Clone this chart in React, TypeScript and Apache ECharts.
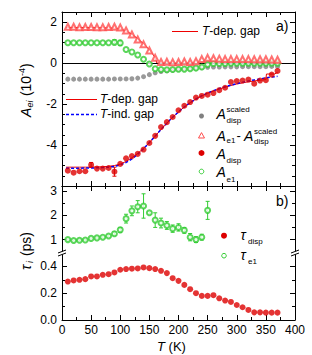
import React, { useEffect, useRef } from "react";
import * as echarts from "echarts";

const FONT = "'Liberation Sans', Arial, sans-serif";

// ---------- data ----------
const temps = [10, 20, 30, 40, 50, 60, 70, 80, 90, 100, 110, 120, 130, 140, 150, 160, 170, 180, 190, 200, 210, 220, 230, 240, 250, 260, 270, 280, 290, 300, 310, 320, 330, 340, 350, 360, 370];

const aDispScaled = [-0.78, -0.78, -0.78, -0.78, -0.78, -0.78, -0.78, -0.78, -0.77, -0.77, -0.77, -0.76, -0.73, -0.66, -0.56, -0.47, -0.41, -0.37, -0.34, -0.31, -0.29, -0.27, -0.25, -0.22, -0.2, -0.19, -0.19, -0.18, -0.18, -0.18, -0.17, -0.17, -0.17, -0.17, -0.17, -0.16, -0.16];
const aE1MinusScaled = [1.78, 1.78, 1.76, 1.77, 1.77, 1.76, 1.76, 1.77, 1.78, 1.74, 1.6, 1.4, 1.16, 0.92, 0.62, 0.26, 0.06, 0.07, 0.05, 0.06, 0.08, 0.06, 0.1, 0.2, 0.26, 0.24, 0.22, 0.2, 0.2, 0.2, 0.2, 0.2, 0.19, 0.19, 0.19, 0.18, 0.17];
const aDisp = [-5.25, -5.35, -5.28, -5.28, -4.97, -5.15, -5.15, -5.12, -5.3, -4.92, -4.65, -4.54, -4.43, -4.22, -3.9, -3.55, -3.12, -2.88, -2.63, -2.3, -2.08, -1.9, -1.68, -1.6, -1.54, -1.46, -1.32, -1.2, -0.92, -0.87, -0.85, -0.8, -1.0, -0.85, -0.83, -0.56, -0.38];
const aDispErr = [0, 0, 0, 0, 0.12, 0, 0, 0, 0.22, 0, 0, 0, 0, 0, 0, 0, 0, 0, 0, 0, 0, 0, 0, 0, 0, 0, 0, 0, 0, 0, 0, 0, 0, 0, 0, 0, 0];
const aE1 = [1.0, 1.0, 1.0, 1.0, 1.0, 1.0, 1.0, 1.0, 1.02, 0.99, 0.67, 0.55, 0.4, 0.19, -0.04, -0.27, -0.31, -0.32, -0.31, -0.3, -0.29, -0.27, -0.24, -0.19, -0.06, -0.02, -0.01, -0.01, 0, 0, 0, 0, 0, 0, 0, 0, 0];
const aE1Err = [0, 0, 0, 0, 0, 0, 0, 0, 0.13, 0.13, 0, 0, 0, 0, 0, 0, 0, 0, 0, 0, 0, 0, 0, 0, 0, 0, 0, 0, 0, 0, 0, 0, 0, 0, 0, 0, 0];

const gapDepDiffT = [7, 20, 40, 60, 80, 90, 100, 110, 120, 130, 140, 150, 160, 163, 370];
const gapDepDiff = [1.74, 1.74, 1.74, 1.73, 1.72, 1.71, 1.67, 1.57, 1.41, 1.2, 0.95, 0.65, 0.28, 0, 0];

const gapDepDispT = [7, 20, 30, 40, 50, 60, 70, 80, 90, 100, 110, 120, 130, 140, 150, 160, 170, 180, 190, 200, 210, 220, 230, 240, 250, 260, 270, 280, 290, 300, 310, 320, 330, 340, 350, 351, 365, 370];
const gapDepDisp = [-5.08, -5.08, -5.08, -5.08, -5.08, -5.07, -5.06, -5.04, -5.0, -4.93, -4.8, -4.62, -4.41, -4.16, -3.88, -3.56, -3.24, -2.93, -2.64, -2.38, -2.14, -1.93, -1.75, -1.6, -1.47, -1.36, -1.26, -1.17, -1.09, -1.02, -0.96, -0.91, -0.87, -0.83, -0.8, -0.53, -0.53, -0.45];

const gapIndDispT = [7, 20, 30, 40, 50, 60, 70, 80, 90, 100, 110, 120, 130, 140, 150, 160, 170, 180, 190, 200, 210, 220, 230, 240, 250, 260, 270, 280, 290, 300, 310, 320, 330, 340, 350, 360, 370];
const gapIndDisp = [-5.13, -5.13, -5.13, -5.12, -5.12, -5.11, -5.1, -5.08, -5.04, -4.97, -4.85, -4.68, -4.45, -4.18, -3.88, -3.56, -3.24, -2.93, -2.64, -2.38, -2.14, -1.93, -1.75, -1.59, -1.46, -1.34, -1.24, -1.15, -1.07, -1.0, -0.93, -0.87, -0.82, -0.77, -0.72, -0.68, -0.64];

const tauE1T = [10, 20, 30, 40, 50, 60, 70, 80, 90, 100, 110, 120, 130, 140, 150, 160, 170, 180, 190, 200, 210, 220, 230, 240, 250];
const tauE1 = [1.0, 0.96, 0.97, 0.98, 1.05, 1.07, 1.1, 1.15, 1.24, 1.4, 1.86, 2.18, 2.35, 2.38, 2.1, 1.8, 1.68, 1.58, 1.45, 1.5, 1.38, 1.1, 1.0, 1.1, 2.2];
const tauE1Err = [0.03, 0.03, 0.03, 0.03, 0.03, 0.03, 0.04, 0.05, 0.08, 0.1, 0.18, 0.2, 0.25, 0.5, 0.05, 0.3, 0.2, 0.16, 0.15, 0.15, 0.12, 0.15, 0.12, 0.12, 0.37];
const tauDisp = [0.287, 0.295, 0.3, 0.305, 0.325, 0.325, 0.337, 0.342, 0.355, 0.375, 0.38, 0.383, 0.385, 0.392, 0.387, 0.38, 0.367, 0.35, 0.312, 0.292, 0.262, 0.23, 0.2, 0.18, 0.18, 0.185, 0.162, 0.145, 0.135, 0.112, 0.095, 0.075, 0.057, 0.057, 0.055, 0.055, 0.055];

// ticks
const yTopMajor = [-4, -2, 0, 2];
const yTopMinor = [-5.5, -5, -4.5, -3.5, -3, -2.5, -1.5, -1, -0.5, 0.5, 1, 1.5];
const yUpMajor = [1, 2, 3];
const yUpMinor = [1.5, 2.5];
const yLowMajor = [0, 0.2, 0.4];
const yLowMinor = [0.1, 0.3];

// ---------- colors ----------
const GREEN = "#33cc33";
const GRAY = "#808080";
const RED = "#dd0000";
const PINK = "#ff4d4d";
const LINERED = "#ee0000";
const BLUE = "#0000ff";

const zip = (xs: number[], ys: number[]) => xs.map((x, i) => [x, ys[i]]);

function yAxes(grid: number, min: number, max: number, majors: number[], minors: number[], fmt: (v: number) => string) {
  const out: any[] = [];
  for (const pos of ["left", "right"]) {
    out.push({
      type: "value", gridIndex: grid, position: pos, min, max,
      splitLine: { show: false },
      axisLine: { show: true, onZero: false, lineStyle: { color: "#000", width: 1 } },
      axisTick: { show: true, inside: true, length: 5, customValues: majors, lineStyle: { color: "#000", width: 1 } },
      axisLabel: { show: pos === "left", customValues: majors, margin: 5, color: "#000", fontSize: 12, fontFamily: FONT, formatter: (v: number) => fmt(v) },
    });
    out.push({
      type: "value", gridIndex: grid, position: pos, min, max,
      splitLine: { show: false },
      axisLine: { show: false, onZero: false },
      axisTick: { show: true, inside: true, length: 3, customValues: minors, lineStyle: { color: "#000", width: 1 } },
      axisLabel: { show: false },
    });
  }
  return out;
}

function xAxis(grid: number, pos: string, labels: boolean) {
  return {
    type: "value", gridIndex: grid, position: pos, min: 0, max: 400, interval: 50,
    splitLine: { show: false }, minorSplitLine: { show: false },
    axisLine: { show: true, onZero: false, lineStyle: { color: "#000", width: 1 } },
    axisTick: { show: true, inside: true, length: 5, lineStyle: { color: "#000", width: 1 } },
    minorTick: { show: true, splitNumber: 2, length: 3, lineStyle: { color: "#000", width: 1 } },
    axisLabel: { show: labels, margin: 4, color: "#000", fontSize: 12, fontFamily: FONT },
  };
}

function errSeries(xs: number[], ys: number[], errs: number[], xi: number, yi: number, color: string) {
  const data: number[][] = [];
  xs.forEach((x, i) => {
    if (errs[i] > 0) data.push([x, ys[i] - errs[i], ys[i] + errs[i]]);
  });
  return {
    type: "custom", xAxisIndex: xi, yAxisIndex: yi, z: 2, silent: true,
    encode: { x: 0, y: [1, 2] },
    data,
    renderItem: (params: any, api: any) => {
      const x = api.value(0);
      const p1 = api.coord([x, api.value(1)]);
      const p2 = api.coord([x, api.value(2)]);
      const w = 2;
      const st = { stroke: color, lineWidth: 1 };
      return {
        type: "group",
        children: [
          { type: "line", shape: { x1: p1[0], y1: p1[1], x2: p2[0], y2: p2[1] }, style: st },
          { type: "line", shape: { x1: p1[0] - w, y1: p1[1], x2: p1[0] + w, y2: p1[1] }, style: st },
          { type: "line", shape: { x1: p2[0] - w, y1: p2[1], x2: p2[0] + w, y2: p2[1] }, style: st },
        ],
      };
    },
  };
}

const txt = (x: number, y: number, text: string, size: number, extra: any = {}) => ({
  type: "text", x, y, z: 100, silent: true,
  style: {
    text, fill: "#000", fontSize: size, fontFamily: FONT,
    align: "left", verticalAlign: "middle", textAlign: "left", textVerticalAlign: "middle",
    ...extra,
  },
});
const IT = { fontStyle: "italic" };

function breakMark(x0: number, c: number) {
  return [
    { type: "polygon", z: 99, silent: true, shape: { points: [[x0 - 2, c + 0.8], [x0 + 2, c - 0.7], [x0 + 2, c + 2.3], [x0 - 2, c + 3.8]] }, style: { fill: "#fff" } },
    { type: "line", z: 100, silent: true, shape: { x1: x0 - 4, y1: c + 1.5, x2: x0 + 4, y2: c - 1.5 }, style: { stroke: "#000", lineWidth: 1 } },
    { type: "line", z: 100, silent: true, shape: { x1: x0 - 4, y1: c + 4.5, x2: x0 + 4, y2: c + 1.5 }, style: { stroke: "#000", lineWidth: 1 } },
  ];
}

export default function App() {
  const ref = useRef<HTMLDivElement>(null);
  useEffect(() => {
    if (!ref.current) return;
    const chart = echarts.init(ref.current, null, { renderer: "svg" });
    const L = 62, W = 233;
    const option: any = {
      animation: false,
      backgroundColor: "#fff",
      grid: [
        { left: L, top: 12, width: W, height: 174, containLabel: false, outerBoundsMode: "none" },
        { left: L, top: 186, width: W, height: 67, containLabel: false, outerBoundsMode: "none" },
        { left: L, top: 253, width: W, height: 67, containLabel: false, outerBoundsMode: "none" },
      ],
      xAxis: [
        xAxis(0, "bottom", false),
        xAxis(0, "top", false),
        xAxis(1, "top", false),
        xAxis(2, "bottom", true),
      ],
      yAxis: [
        ...yAxes(0, -6, 2.5, yTopMajor, yTopMinor, (v) => String(v)),
        ...yAxes(1, 0.45, 3.2, yUpMajor, yUpMinor, (v) => String(v)),
        ...yAxes(2, 0, 0.5, yLowMajor, yLowMinor, (v) => v.toFixed(1)),
      ],
      series: [
        {
          type: "line", xAxisIndex: 0, yAxisIndex: 0, data: zip(gapDepDiffT, gapDepDiff), showSymbol: false, symbol: "none", z: 3,
          lineStyle: { color: LINERED, width: 1 },
          markLine: { silent: true, symbol: ["none", "none"], label: { show: false }, lineStyle: { color: "#000", width: 1, type: "solid" }, data: [{ yAxis: 0 }] },
        },
        { type: "line", xAxisIndex: 0, yAxisIndex: 0, data: zip(gapDepDispT, gapDepDisp), showSymbol: false, symbol: "none", z: 3, lineStyle: { color: LINERED, width: 1 } },
        { type: "line", xAxisIndex: 0, yAxisIndex: 0, data: zip(gapIndDispT, gapIndDisp), showSymbol: false, symbol: "none", z: 4, lineStyle: { color: BLUE, width: 1.5, type: [3, 2] } },
        { type: "scatter", xAxisIndex: 0, yAxisIndex: 0, data: zip(temps, aDispScaled), symbol: "circle", symbolSize: 5, itemStyle: { color: GRAY }, z: 5 },
        errSeries(temps, aE1, aE1Err, 0, 0, GREEN),
        { type: "scatter", xAxisIndex: 0, yAxisIndex: 0, data: zip(temps, aE1), symbol: "emptyCircle", symbolSize: 5, itemStyle: { color: GREEN, borderColor: GREEN, borderWidth: 1 }, z: 6 },
        { type: "scatter", xAxisIndex: 0, yAxisIndex: 0, data: zip(temps, aE1MinusScaled), symbol: "emptyTriangle", symbolSize: 6, itemStyle: { color: PINK, borderColor: PINK, borderWidth: 1 }, z: 6 },
        errSeries(temps, aDisp, aDispErr, 0, 0, RED),
        { type: "scatter", xAxisIndex: 0, yAxisIndex: 0, data: zip(temps, aDisp), symbol: "circle", symbolSize: 6, itemStyle: { color: RED }, z: 7 },
        errSeries(tauE1T, tauE1, tauE1Err, 2, 4, GREEN),
        { type: "scatter", xAxisIndex: 2, yAxisIndex: 4, data: zip(tauE1T, tauE1), symbol: "emptyCircle", symbolSize: 5, itemStyle: { color: GREEN, borderColor: GREEN, borderWidth: 1 }, z: 6 },
        { type: "scatter", xAxisIndex: 3, yAxisIndex: 8, data: zip(temps, tauDisp), symbol: "circle", symbolSize: 6, itemStyle: { color: RED }, z: 6 },
      ],
      graphic: [
        ...breakMark(62, 251.5),
        ...breakMark(295, 251.5),
        // panel labels
        txt(276, 26, "a)", 14),
        txt(276, 200.5, "b)", 14),
        // top-right legend
        { type: "line", z: 100, silent: true, shape: { x1: 172, y1: 31.5, x2: 198, y2: 31.5 }, style: { stroke: LINERED, lineWidth: 1 } },
        txt(202, 31, "T", 12, IT),
        txt(209.3, 31, "-dep. gap", 12),
        // left legend
        { type: "line", z: 100, silent: true, shape: { x1: 66, y1: 99.5, x2: 97, y2: 99.5 }, style: { stroke: LINERED, lineWidth: 1 } },
        txt(100, 99, "T", 12, IT),
        txt(107.3, 99, "-dep. gap", 12),
        { type: "line", z: 100, silent: true, shape: { x1: 66, y1: 114.5, x2: 97, y2: 114.5 }, style: { stroke: BLUE, lineWidth: 1.5, lineDash: [3, 2] } },
        txt(100, 114, "T", 12, IT),
        txt(107.3, 114, "-ind. gap", 12),
        // right legend markers
        { type: "circle", z: 100, silent: true, shape: { cx: 201.5, cy: 116, r: 2.5 }, style: { fill: GRAY } },
        { type: "polygon", z: 100, silent: true, shape: { points: [[201.5, 132.6], [204.5, 138], [198.5, 138]] }, style: { fill: "#fff", stroke: PINK, lineWidth: 1 } },
        { type: "circle", z: 100, silent: true, shape: { cx: 201.5, cy: 153, r: 3 }, style: { fill: RED } },
        { type: "circle", z: 100, silent: true, shape: { cx: 201.5, cy: 171.5, r: 2.3 }, style: { fill: "#fff", stroke: GREEN, lineWidth: 1 } },
        // right legend texts
        txt(216.5, 113.5, "A", 14, IT),
        txt(226.5, 109.5, "scaled", 8),
        txt(226.5, 120.5, "disp", 8),
        txt(216.5, 135.5, "A", 14, IT),
        txt(226.5, 140.5, "e1", 8),
        txt(236.5, 135.5, "-", 13),
        txt(244, 135.5, "A", 14, IT),
        txt(254, 131, "scaled", 8),
        txt(254, 141.5, "disp", 8),
        txt(216.5, 153.5, "A", 14, IT),
        txt(226.5, 160, "disp", 8),
        txt(216.5, 172, "A", 14, IT),
        txt(226.5, 179, "e1", 8),
        // bottom legend
        { type: "circle", z: 100, silent: true, shape: { cx: 224, cy: 235.7, r: 3 }, style: { fill: RED } },
        { type: "circle", z: 100, silent: true, shape: { cx: 224, cy: 255.7, r: 2.3 }, style: { fill: "#fff", stroke: GREEN, lineWidth: 1 } },
        txt(240.5, 235, "τ", 14, IT),
        txt(248, 241.5, "disp", 8),
        txt(240.5, 255, "τ", 14, IT),
        txt(248, 261.5, "e1", 8),
        // axis titles
        {
          type: "group", x: 26, y: 117, rotation: Math.PI / 2, z: 100, silent: true,
          children: [
            txt(0, 0, "A", 14, IT),
            txt(9.5, 3.5, "ei", 9, IT),
            txt(17, 0, " (10", 14),
            txt(41, -4.5, "-4", 9),
            txt(49, 0, ")", 14),
          ],
        },
        {
          type: "group", x: 26, y: 270, rotation: Math.PI / 2, z: 100, silent: true,
          children: [
            txt(0, 0, "τ", 14, IT),
            txt(7, 3.5, "i", 9, IT),
            txt(10, 0, " (ps)", 14),
          ],
        },
        txt(157, 346.5, "T", 13, IT),
        txt(165, 346.5, " (K)", 13),
      ],
    };
    chart.setOption(option);
    return () => chart.dispose();
  }, []);
  return <div ref={ref} style={{ position: "fixed", left: 0, top: 0, width: 312, height: 355, background: "#fff" }} />;
}
